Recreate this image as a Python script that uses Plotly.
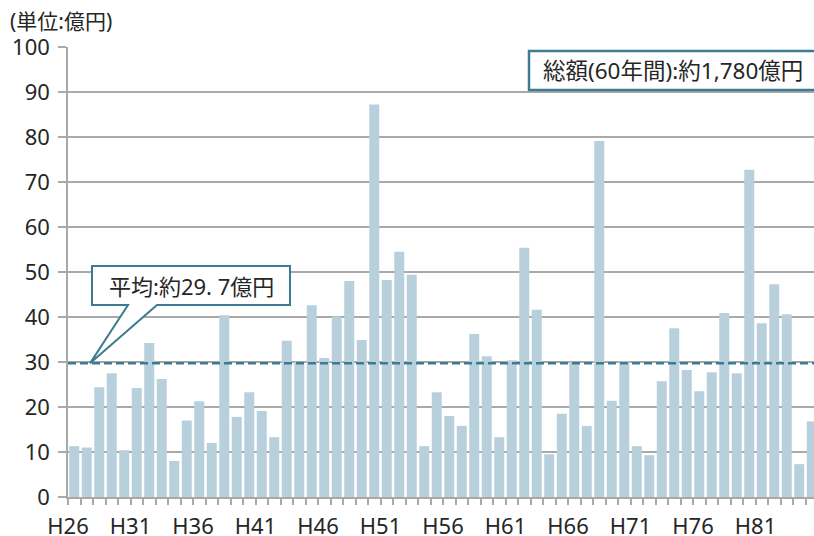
import plotly.graph_objects as go

# ---- data ----
years = ["H26","H27","H28","H29","H30","H31","H32","H33","H34","H35",
         "H36","H37","H38","H39","H40","H41","H42","H43","H44","H45",
         "H46","H47","H48","H49","H50","H51","H52","H53","H54","H55",
         "H56","H57","H58","H59","H60","H61","H62","H63","H64","H65",
         "H66","H67","H68","H69","H70","H71","H72","H73","H74","H75",
         "H76","H77","H78","H79","H80","H81","H82","H83","H84","H85"]
values = [11.3, 11.0, 24.4, 27.5, 10.4, 24.2, 34.2, 26.2, 8.0, 17.0,
          21.3, 12.0, 40.4, 17.8, 23.3, 19.1, 13.3, 34.7, 30.0, 42.6,
          30.9, 40.1, 48.0, 34.9, 87.2, 48.2, 54.5, 49.4, 11.3, 23.3,
          18.0, 15.8, 36.2, 31.3, 13.3, 30.4, 55.4, 41.6, 9.5, 18.5,
          30.0, 15.8, 79.1, 21.4, 30.1, 11.3, 9.3, 25.7, 37.5, 28.2,
          23.5, 27.7, 40.9, 27.5, 72.7, 38.6, 47.3, 40.6, 7.3, 16.8]
average = 29.7
y_ticks = [0, 10, 20, 30, 40, 50, 60, 70, 80, 90, 100]
label_every = 5
unit_text = "(単位:億円)"
total_text = "総額(60年間):約1,780億円"
avg_text = "平均:約29. 7億円"

# ---- layout geometry (screen pixels; page body margin is removed) ----
W, H = 814, 536
L, T, B, R = 68, 47, 497, 814
FONT = "Noto Sans, Noto Sans CJK JP, sans-serif"
TEAL = "#3b7c93"
BAR = "#b8d0dc"
GRID = "#a9a9a9"
TXT = "#262626"

BAND = 12.5      # px per category
UNIT = 4.5       # px per value unit

xi = list(range(len(years)))
x_max = -0.5 + (R - L) / BAND

def sx(p):  # screen px -> x data
    return (p - L) / BAND - 0.5

def sy(p):  # screen px -> y data
    return (B - p) / UNIT

def px(p):  # screen px -> paper x
    return (p - L) / (R - L)

def py(p):  # screen px -> paper y
    return (B - p) / (B - T)

fig = go.Figure()
fig.add_trace(go.Bar(x=xi, y=values, marker=dict(color=BAR, line=dict(width=0)),
                     hoverinfo="skip"))

tickvals = [i - 0.5 for i in xi]
ticktext = [years[i] if i % label_every == 0 else "" for i in xi]

fig.update_layout(
    width=W, height=H,
    margin=dict(l=L, r=W - R, t=T, b=H - B, autoexpand=False),
    paper_bgcolor="white", plot_bgcolor="white",
    bargap=0.2, showlegend=False,
    font=dict(family=FONT, size=22, color=TXT),
    xaxis=dict(range=[-0.5, x_max], tickvals=tickvals, ticktext=ticktext,
               automargin=False,
               showgrid=False, zeroline=False, showline=True, linecolor=GRID,
               linewidth=1.5, ticks="outside", ticklen=6, tickwidth=1.5,
               tickcolor=GRID, ticklabelstandoff=3,
               tickfont=dict(family=FONT, size=22, color=TXT)),
    yaxis=dict(range=[0, 100], tickvals=y_ticks, showgrid=True, gridcolor=GRID,
               automargin=False,
               gridwidth=1.5, zeroline=False, showline=True, linecolor=GRID,
               linewidth=1.5, ticks="outside", ticklen=8, tickwidth=1.5,
               tickcolor=GRID, ticklabelstandoff=4,
               tickfont=dict(family=FONT, size=22, color=TXT)),
)

# average dashed line
fig.add_shape(type="line", xref="paper", yref="y", x0=0, x1=1,
              y0=average, y1=average,
              line=dict(color=TEAL, width=2.5, dash="8px,4px"), layer="above")

# callout box with pointer to the average line (screen px)
bx0, bx1, by0, by1 = 92, 290, 266, 305
p0, p1, tipx = 128, 157, 90
path = (f"M {sx(bx0)},{sy(by0)} L {sx(bx1)},{sy(by0)} "
        f"L {sx(bx1)},{sy(by1)} L {sx(p1)},{sy(by1)} "
        f"L {sx(tipx)},{average} L {sx(p0)},{sy(by1)} "
        f"L {sx(bx0)},{sy(by1)} Z")
fig.add_shape(type="path", xref="x", yref="y", path=path,
              fillcolor="white", line=dict(color=TEAL, width=2), layer="above")
fig.add_annotation(x=sx((bx0 + bx1) / 2), y=sy((by0 + by1) / 2),
                   xref="x", yref="y", text=avg_text, showarrow=False,
                   font=dict(family=FONT, size=22, color=TXT))

# total box (top right, cut by the frame)
tx0, tx1, ty0, ty1 = 529, 818, 51, 90
fig.add_shape(type="path", xref="x", yref="y",
              path=(f"M {sx(tx0)},{sy(ty0)} L {sx(tx1)},{sy(ty0)} "
                    f"L {sx(tx1)},{sy(ty1)} L {sx(tx0)},{sy(ty1)} Z"),
              fillcolor="white", line=dict(color=TEAL, width=2.5), layer="above")
fig.add_annotation(x=sx(673), y=sy(70.5), xref="x", yref="y",
                   text=total_text, showarrow=False,
                   font=dict(family=FONT, size=22.5, color=TXT))

# unit label
fig.add_annotation(x=px(8), y=py(21), xref="paper", yref="paper",
                   xanchor="left", yanchor="middle", text=unit_text,
                   showarrow=False, font=dict(family=FONT, size=21, color=TXT))

fig.write_html(
    "out.html",
    config={"displayModeBar": False},
    post_script="document.body.style.margin='0';"
                "document.body.style.overflow='hidden';",
)
